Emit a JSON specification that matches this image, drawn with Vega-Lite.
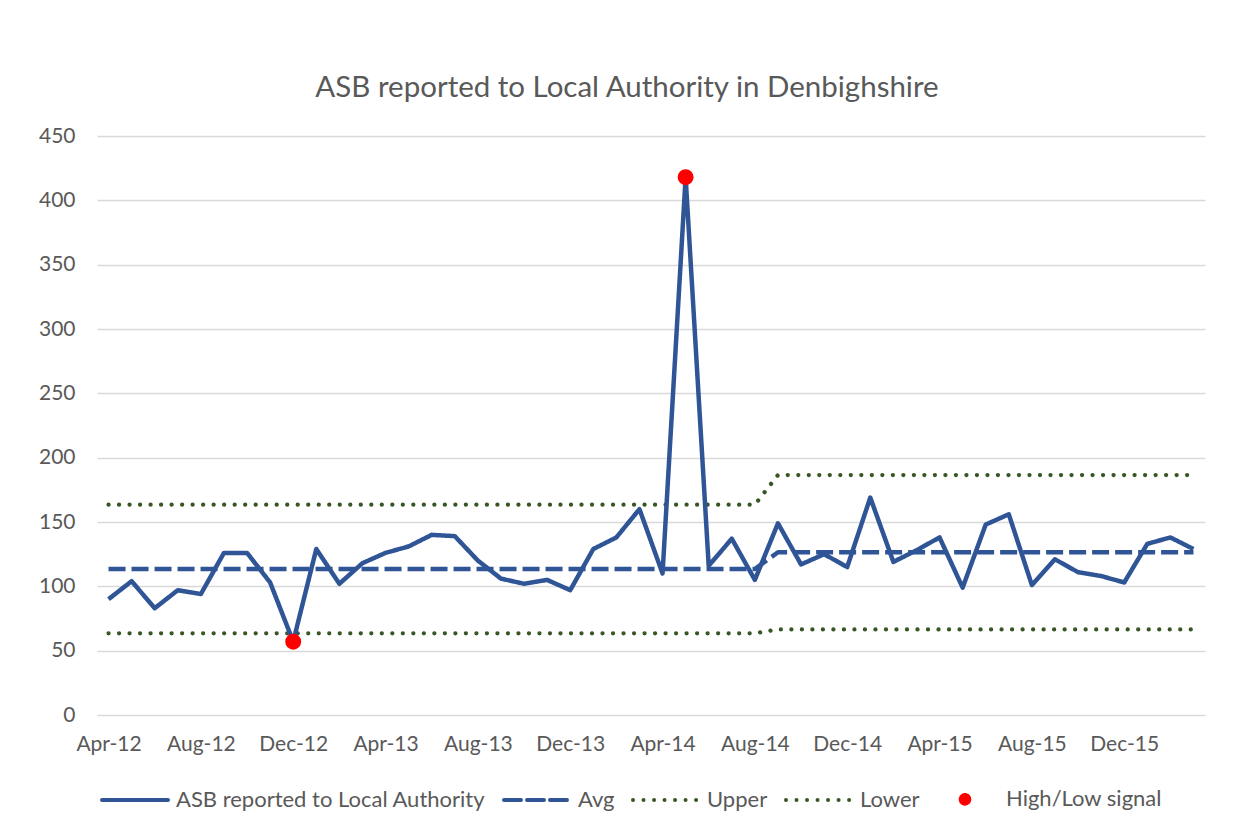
{
  "$schema": "https://vega.github.io/schema/vega-lite/v6.json",
  "width": 1108,
  "height": 579,
  "autosize": {"type": "none"},
  "padding": {"left": 97, "top": 136, "right": 34, "bottom": 118},
  "background": "white",
  "title": {
    "text": "ASB reported to Local Authority in Denbighshire",
    "font": "Lato",
    "fontSize": 29.5,
    "fontWeight": "normal",
    "color": "#595959",
    "anchor": "middle",
    "offset": 22,
    "dx": -24
  },
  "config": {"view": {"stroke": null}, "font": "Lato"},
  "data": {
    "values": [
      {"month": "Apr-12", "ASB": 90, "Avg": 113.5, "Upper": 163.5, "Lower": 63.5},
      {"month": "May-12", "ASB": 104, "Avg": 113.5, "Upper": 163.5, "Lower": 63.5},
      {"month": "Jun-12", "ASB": 83, "Avg": 113.5, "Upper": 163.5, "Lower": 63.5},
      {"month": "Jul-12", "ASB": 97, "Avg": 113.5, "Upper": 163.5, "Lower": 63.5},
      {"month": "Aug-12", "ASB": 94, "Avg": 113.5, "Upper": 163.5, "Lower": 63.5},
      {"month": "Sep-12", "ASB": 126, "Avg": 113.5, "Upper": 163.5, "Lower": 63.5},
      {"month": "Oct-12", "ASB": 126, "Avg": 113.5, "Upper": 163.5, "Lower": 63.5},
      {"month": "Nov-12", "ASB": 103, "Avg": 113.5, "Upper": 163.5, "Lower": 63.5},
      {"month": "Dec-12", "ASB": 57, "Avg": 113.5, "Upper": 163.5, "Lower": 63.5, "Signal": 57},
      {"month": "Jan-13", "ASB": 129, "Avg": 113.5, "Upper": 163.5, "Lower": 63.5},
      {"month": "Feb-13", "ASB": 102, "Avg": 113.5, "Upper": 163.5, "Lower": 63.5},
      {"month": "Mar-13", "ASB": 118, "Avg": 113.5, "Upper": 163.5, "Lower": 63.5},
      {"month": "Apr-13", "ASB": 126, "Avg": 113.5, "Upper": 163.5, "Lower": 63.5},
      {"month": "May-13", "ASB": 131, "Avg": 113.5, "Upper": 163.5, "Lower": 63.5},
      {"month": "Jun-13", "ASB": 140, "Avg": 113.5, "Upper": 163.5, "Lower": 63.5},
      {"month": "Jul-13", "ASB": 139, "Avg": 113.5, "Upper": 163.5, "Lower": 63.5},
      {"month": "Aug-13", "ASB": 120, "Avg": 113.5, "Upper": 163.5, "Lower": 63.5},
      {"month": "Sep-13", "ASB": 106, "Avg": 113.5, "Upper": 163.5, "Lower": 63.5},
      {"month": "Oct-13", "ASB": 102, "Avg": 113.5, "Upper": 163.5, "Lower": 63.5},
      {"month": "Nov-13", "ASB": 105, "Avg": 113.5, "Upper": 163.5, "Lower": 63.5},
      {"month": "Dec-13", "ASB": 97, "Avg": 113.5, "Upper": 163.5, "Lower": 63.5},
      {"month": "Jan-14", "ASB": 129, "Avg": 113.5, "Upper": 163.5, "Lower": 63.5},
      {"month": "Feb-14", "ASB": 138, "Avg": 113.5, "Upper": 163.5, "Lower": 63.5},
      {"month": "Mar-14", "ASB": 160, "Avg": 113.5, "Upper": 163.5, "Lower": 63.5},
      {"month": "Apr-14", "ASB": 110, "Avg": 113.5, "Upper": 163.5, "Lower": 63.5},
      {"month": "May-14", "ASB": 418, "Avg": 113.5, "Upper": 163.5, "Lower": 63.5, "Signal": 418},
      {"month": "Jun-14", "ASB": 116, "Avg": 113.5, "Upper": 163.5, "Lower": 63.5},
      {"month": "Jul-14", "ASB": 137, "Avg": 113.5, "Upper": 163.5, "Lower": 63.5},
      {"month": "Aug-14", "ASB": 105, "Avg": 113.5, "Upper": 163.5, "Lower": 63.5},
      {"month": "Sep-14", "ASB": 149, "Avg": 126.5, "Upper": 186.5, "Lower": 66.5},
      {"month": "Oct-14", "ASB": 117, "Avg": 126.5, "Upper": 186.5, "Lower": 66.5},
      {"month": "Nov-14", "ASB": 125, "Avg": 126.5, "Upper": 186.5, "Lower": 66.5},
      {"month": "Dec-14", "ASB": 115, "Avg": 126.5, "Upper": 186.5, "Lower": 66.5},
      {"month": "Jan-15", "ASB": 169, "Avg": 126.5, "Upper": 186.5, "Lower": 66.5},
      {"month": "Feb-15", "ASB": 119, "Avg": 126.5, "Upper": 186.5, "Lower": 66.5},
      {"month": "Mar-15", "ASB": 128, "Avg": 126.5, "Upper": 186.5, "Lower": 66.5},
      {"month": "Apr-15", "ASB": 138, "Avg": 126.5, "Upper": 186.5, "Lower": 66.5},
      {"month": "May-15", "ASB": 99, "Avg": 126.5, "Upper": 186.5, "Lower": 66.5},
      {"month": "Jun-15", "ASB": 148, "Avg": 126.5, "Upper": 186.5, "Lower": 66.5},
      {"month": "Jul-15", "ASB": 156, "Avg": 126.5, "Upper": 186.5, "Lower": 66.5},
      {"month": "Aug-15", "ASB": 101, "Avg": 126.5, "Upper": 186.5, "Lower": 66.5},
      {"month": "Sep-15", "ASB": 121, "Avg": 126.5, "Upper": 186.5, "Lower": 66.5},
      {"month": "Oct-15", "ASB": 111, "Avg": 126.5, "Upper": 186.5, "Lower": 66.5},
      {"month": "Nov-15", "ASB": 108, "Avg": 126.5, "Upper": 186.5, "Lower": 66.5},
      {"month": "Dec-15", "ASB": 103, "Avg": 126.5, "Upper": 186.5, "Lower": 66.5},
      {"month": "Jan-16", "ASB": 133, "Avg": 126.5, "Upper": 186.5, "Lower": 66.5},
      {"month": "Feb-16", "ASB": 138, "Avg": 126.5, "Upper": 186.5, "Lower": 66.5},
      {"month": "Mar-16", "ASB": 129, "Avg": 126.5, "Upper": 186.5, "Lower": 66.5}
    ]
  },
  "encoding": {
    "x": {
      "field": "month",
      "type": "ordinal",
      "sort": null,
      "scale": {"type": "point", "padding": 0.5},
      "axis": {
        "values": ["Apr-12", "Aug-12", "Dec-12", "Apr-13", "Aug-13", "Dec-13", "Apr-14", "Aug-14", "Dec-14", "Apr-15", "Aug-15", "Dec-15"],
        "title": null,
        "labelAngle": 0,
        "labelFont": "Lato",
        "labelFontSize": 21,
        "labelColor": "#595959",
        "ticks": false,
        "domain": false,
        "grid": false,
        "labelPadding": 18
      }
    },
    "y": {
      "field": "value",
      "type": "quantitative",
      "scale": {"domain": [0, 450], "nice": false},
      "axis": {
        "values": [0, 50, 100, 150, 200, 250, 300, 350, 400, 450],
        "title": null,
        "labelFont": "Lato",
        "labelFontSize": 21,
        "labelColor": "#595959",
        "ticks": false,
        "domain": false,
        "gridColor": "#D9D9D9",
        "gridWidth": 1.5,
        "labelPadding": 22
      }
    },
    "color": {
      "field": "series",
      "type": "nominal",
      "scale": {
        "domain": ["ASB", "Avg", "Upper", "Lower", "Signal"],
        "range": ["#2F5597", "#2F5597", "#375623", "#375623", "#FF0000"]
      },
      "legend": {
        "title": null,
        "orient": "none",
        "legendX": 3,
        "legendY": 628,
        "direction": "horizontal",
        "symbolType": "stroke",
        "symbolSize": 4356,
        "symbolStrokeWidth": 4,
        "labelFont": "Lato",
        "labelFontSize": 22,
        "labelColor": "#595959",
        "labelLimit": 500,
        "labelOffset": 6,
        "columnPadding": 10,
        "labelExpr": "datum.value === 'ASB' ? 'ASB reported to Local Authority' : datum.value === 'Signal' ? 'High/Low signal' : datum.value",
        "encode": {
          "symbols": {
            "update": {
              "shape": {"signal": "datum.value === 'Signal' ? 'M-0.13,0A0.13,0.13,0,1,1,0.13,0A0.13,0.13,0,1,1,-0.13,0Z' : 'stroke'"},
              "size": {"value": 4356},
              "fill": {"signal": "datum.value === 'Signal' ? '#FF0000' : 'transparent'"},
              "strokeWidth": {"value": 4},
              "strokeCap": {"value": "round"},
              "opacity": {"value": 1}
            }
          }
        }
      }
    },
    "strokeDash": {
      "field": "series",
      "type": "nominal",
      "scale": {
        "domain": ["ASB", "Avg", "Upper", "Lower", "Signal"],
        "range": [[1, 0], [17, 6], [0.01, 10.5], [0.01, 10.5], [1, 0]]
      }
    }
  },
  "layer": [
    {
      "transform": [{"fold": ["Upper", "Lower"], "as": ["series", "value"]}],
      "mark": {"type": "line", "strokeWidth": 4.3, "strokeCap": "round"}
    },
    {
      "transform": [{"fold": ["Avg", "ASB"], "as": ["series", "value"]}],
      "mark": {"type": "line", "strokeWidth": 4.5, "strokeCap": "butt", "strokeJoin": "round"}
    },
    {
      "transform": [
        {"fold": ["Signal"], "as": ["series", "value"]},
        {"filter": "isValid(datum.value)"}
      ],
      "mark": {"type": "point", "filled": true, "size": 254, "opacity": 1},
      "encoding": {"strokeDash": {"value": [1, 0]}}
    }
  ]
}
